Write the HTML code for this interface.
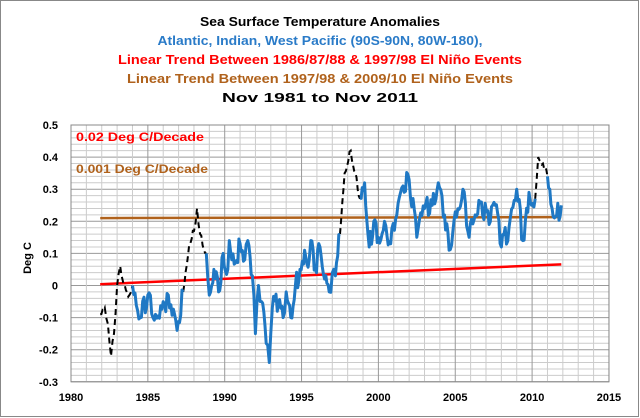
<!DOCTYPE html>
<html><head><meta charset="utf-8"><style>
body{margin:0;background:#fff}
svg{display:block}
text{font-family:"Liberation Sans",sans-serif;font-weight:bold}
</style></head><body>
<svg id="s" width="640" height="418" viewBox="0 0 640 418" xmlns="http://www.w3.org/2000/svg">
<rect x="0.5" y="0.5" width="638" height="416" fill="#fff" stroke="#888"/>
<text x="320" y="26" text-anchor="middle" font-size="13" fill="#000" textLength="240" lengthAdjust="spacingAndGlyphs">Sea Surface Temperature Anomalies</text>
<text x="320" y="45" text-anchor="middle" font-size="13" fill="#2a7bc8" textLength="325" lengthAdjust="spacingAndGlyphs">Atlantic, Indian, West Pacific (90S-90N, 80W-180),</text>
<text x="320" y="64" text-anchor="middle" font-size="13" fill="#ff0000" textLength="404" lengthAdjust="spacingAndGlyphs">Linear Trend Between 1986/87/88 &amp; 1997/98 El Niño Events</text>
<text x="320" y="83" text-anchor="middle" font-size="13" fill="#b0621c" textLength="386" lengthAdjust="spacingAndGlyphs">Linear Trend Between 1997/98 &amp; 2009/10 El Niño Events</text>
<text x="320" y="102" text-anchor="middle" font-size="13" fill="#000" textLength="196" lengthAdjust="spacingAndGlyphs">Nov 1981 to Nov 2011</text>
<g id="g"></g>
<text x="76" y="141" font-size="12" fill="#ff0000" textLength="128" lengthAdjust="spacingAndGlyphs">0.02 Deg C/Decade</text>
<text x="76" y="173" font-size="12" fill="#b0621c" textLength="132" lengthAdjust="spacingAndGlyphs">0.001 Deg C/Decade</text>
<text transform="translate(31,258) rotate(-90)" text-anchor="middle" font-size="11" fill="#000">Deg C</text>
</svg>
<script>
var g=document.getElementById('g'),NS='http://www.w3.org/2000/svg';
function X(y){return 71+(y-1980)*15.37;}
function Y(v){return 285.5-v*321;}
function el(t,a){var e=document.createElementNS(NS,t);for(var k in a)e.setAttribute(k,a[k]);g.appendChild(e);return e;}
for(var i=0;i<=40;i++){var v=-0.3+i*0.02,y=Y(v);el('line',{x1:71,x2:609,y1:y,y2:y,stroke:i%5==0?'#999':'#ccc','stroke-width':1});}
for(var yr=1980;yr<=2015;yr++){var x=X(yr);el('line',{x1:x,x2:x,y1:Y(0.5),y2:Y(-0.3),stroke:yr%5==0?'#999':'#ccc','stroke-width':1});}
el('rect',{x:71,y:Y(0.5),width:538,height:Y(-0.3)-Y(0.5),fill:'none',stroke:'#888'});
for(var i=0;i<=8;i++){var v=-0.3+i*0.1;var t=el('text',{x:58,y:Y(v)+4,'text-anchor':'end','font-size':11,fill:'#000'});t.textContent=(Math.abs(v)<1e-9?'0':v.toFixed(1));}
for(var yr=1980;yr<=2015;yr+=5){var t=el('text',{x:X(yr),y:401,'text-anchor':'middle','font-size':11,fill:'#000'});t.textContent=yr;}
el('line',{x1:X(1981.9),y1:Y(0.21),x2:X(2011.9),y2:Y(0.213),stroke:'#b0621c','stroke-width':2.5});
el('line',{x1:X(1981.9),y1:Y(0.004),x2:X(2011.9),y2:Y(0.066),stroke:'#ff0000','stroke-width':2.5});
function ser(pts,jit){var o=[],k=0;for(var i=0;i<pts.length-1;i++){var a=pts[i],b=pts[i+1];var n=Math.max(1,Math.round((b[0]-a[0])*12));for(var j=0;j<n;j++){var f=j/n,yr=a[0]+(b[0]-a[0])*f,v=a[1]+(b[1]-a[1])*f;if(j>0)v+=jit*Math.sin(k*2.7+Math.cos(k*1.3)*3);k++;o.push(X(yr).toFixed(1)+','+Y(v).toFixed(1));}}var l=pts[pts.length-1];o.push(X(l[0]).toFixed(1)+','+Y(l[1]).toFixed(1));return o.join(' ');}
var blue=[
[[1984.0,0],[1984.5,-0.1],[1985,-0.03],[1985.5,-0.09],[1986,-0.05],[1986.5,-0.06],[1986.9,-0.14],[1987.3,-0.02]],
[[1988.8,0.1],[1989,-0.03],[1989.3,0.05],[1989.6,-0.02],[1989.9,0.1],[1990.2,0.05],[1990.3,0.14],[1990.7,0.07],[1991,0.13],[1991.3,0.08],[1991.5,0.14],[1991.8,0.03],[1992,-0.15],[1992.2,0.0],[1992.4,-0.05],[1992.7,-0.18],[1992.9,-0.24],[1993.1,-0.07],[1993.5,-0.05],[1993.8,-0.1],[1994,-0.02],[1994.3,-0.1],[1994.6,0.0],[1994.9,0.05],[1995.2,0.11],[1995.5,0.08],[1995.6,0.14],[1995.9,0.05],[1996.2,0.12],[1996.5,0.02],[1996.8,-0.02],[1997.0,0.04],[1997.2,0.03],[1997.5,0.16]],
[[1998.8,0.27],[1999.1,0.32],[1999.4,0.12],[1999.7,0.2],[2000,0.15],[2000.4,0.2],[2000.8,0.13],[2001.2,0.22],[2001.6,0.31],[2002,0.33],[2002.5,0.15],[2003,0.24],[2003.5,0.25],[2003.9,0.32],[2004.3,0.22],[2004.6,0.11],[2005,0.23],[2005.5,0.3],[2005.9,0.15],[2006.3,0.22],[2006.7,0.26],[2007.2,0.19],[2007.6,0.25],[2008,0.12],[2008.5,0.18],[2009,0.3],[2009.4,0.14],[2009.8,0.29],[2010.2,0.27]],
[[2011.0,0.34],[2011.3,0.24],[2011.6,0.22],[2011.9,0.25]]];
var black=[
[[1981.9,-0.09],[1982.2,-0.07],[1982.4,-0.12],[1982.6,-0.22],[1982.8,-0.15],[1983.0,0.0],[1983.2,0.06],[1983.5,0.0],[1983.8,-0.03],[1984.0,0]],
[[1987.3,-0.02],[1987.7,0.13],[1988.0,0.17],[1988.2,0.24],[1988.4,0.16],[1988.8,0.1]],
[[1997.5,0.16],[1997.8,0.35],[1998.2,0.42],[1998.5,0.35],[1998.8,0.27]],
[[2010.2,0.27],[2010.4,0.4],[2010.7,0.38],[2011.0,0.34]]];
black.forEach(function(p){el('polyline',{points:ser(p,0.012),fill:'none',stroke:'#000','stroke-width':2,'stroke-dasharray':'6,4'});});
blue.forEach(function(p){el('polyline',{points:ser(p,0.032),fill:'none',stroke:'#1f78c4','stroke-width':3,'stroke-linejoin':'round'});});
</script>
</body></html>
